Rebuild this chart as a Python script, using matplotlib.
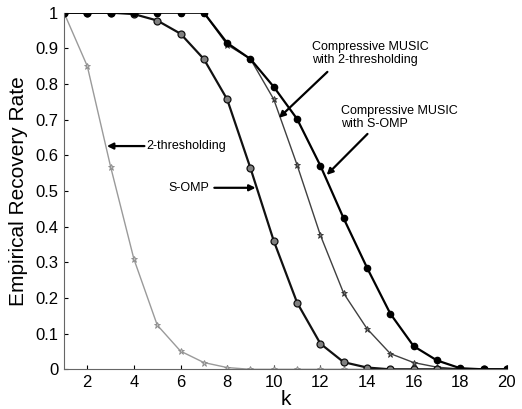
import numpy as np
import matplotlib
matplotlib.use("Agg")
import matplotlib.pyplot as plt

plt.rcParams['font.family'] = ['Liberation Sans', 'DejaVu Sans']

k = np.arange(1, 21)

thresh2 = [1.0, 0.85, 0.568, 0.309, 0.124, 0.051, 0.019, 0.005, 0, 0,
           0, 0, 0, 0, 0, 0, 0, 0, 0, 0]
somp = [1.0, 1.0, 1.0, 0.996, 0.978, 0.941, 0.87, 0.757, 0.564, 0.36,
        0.187, 0.072, 0.02, 0.005, 0, 0, 0, 0, 0, 0]
cm_thresh2 = [1.0, 1.0, 1.0, 1.0, 1.0, 1.0, 1.0, 0.91, 0.87, 0.757,
              0.573, 0.376, 0.213, 0.114, 0.044, 0.019, 0.006, 0.001, 0, 0]
cm_somp = [1.0, 1.0, 1.0, 1.0, 1.0, 1.0, 1.0, 0.915, 0.87, 0.792,
           0.702, 0.571, 0.423, 0.285, 0.156, 0.065, 0.025, 0.003, 0, 0]

fig = plt.figure(figsize=(5.22, 4.09), dpi=100)
ax = fig.add_axes([0.1226, 0.097, 0.8484, 0.872])

ax.plot(k, thresh2, color='#9a9a9a', lw=1.0, marker='*', ms=5,
        mfc='#bdbdbd', mec='#8a8a8a', mew=0.6)
ax.plot(k, cm_thresh2, color='#404040', lw=1.0, marker='*', ms=5,
        mfc='#707070', mec='#303030', mew=0.6)
ax.plot(k, somp, color='#111111', lw=1.6, marker='o', ms=5,
        mfc='#808080', mec='#111111', mew=0.9)
ax.plot(k, cm_somp, color='#000000', lw=1.6, marker='o', ms=4.5,
        mfc='#000000', mec='#000000')

ax.set_xlim(1, 20)
ax.set_ylim(0, 1)
ax.set_xticks(np.arange(2, 21, 2))
ax.set_yticks(np.arange(0, 1.01, 0.1))
ax.set_yticklabels(['0', '0.1', '0.2', '0.3', '0.4', '0.5', '0.6', '0.7',
                    '0.8', '0.9', '1'])
ax.tick_params(direction='in', labelsize=12, length=3, pad=4)
for s in ['top', 'right']:
    ax.spines[s].set_visible(False)
for s in ['left', 'bottom']:
    ax.spines[s].set_color('#666666')

ax.set_xlabel('k', fontsize=15, labelpad=0)
ax.set_ylabel('Empirical Recovery Rate', fontsize=15, labelpad=5)

arr = dict(arrowstyle='-|>', color='black', lw=1.6, mutation_scale=9,
           shrinkA=0, shrinkB=0)
ax.text(4.55, 0.626, '2-thresholding', fontsize=9, va='center', ha='left')
ax.annotate('', xy=(2.84, 0.626), xytext=(4.45, 0.626), arrowprops=arr)
ax.text(5.47, 0.509, 'S-OMP', fontsize=9, va='center', ha='left')
ax.annotate('', xy=(9.22, 0.509), xytext=(7.45, 0.509), arrowprops=arr)
ax.text(11.65, 0.886, 'Compressive MUSIC\nwith 2-thresholding', fontsize=9,
        va='center', ha='left', linespacing=1.15)
ax.annotate('', xy=(10.22, 0.705), xytext=(12.3, 0.834), arrowprops=arr)
ax.text(12.9, 0.707, 'Compressive MUSIC\nwith S-OMP', fontsize=9,
        va='center', ha='left', linespacing=1.15)
ax.annotate('', xy=(12.27, 0.545), xytext=(14.02, 0.66), arrowprops=arr)

fig.savefig('out.png', dpi=100)
